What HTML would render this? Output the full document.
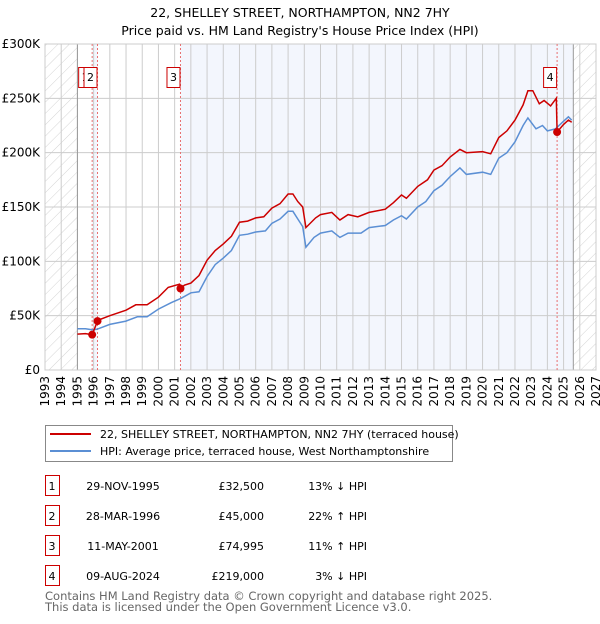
<!DOCTYPE html>
<html><head><meta charset="utf-8">
<style>
body{margin:0;background:#fff;font-family:"DejaVu Sans","Liberation Sans",sans-serif;}
svg text{font-family:"DejaVu Sans","Liberation Sans",sans-serif;}
</style></head>
<body>
<svg id="c" width="600" height="620" xmlns="http://www.w3.org/2000/svg">
<defs>
<pattern id="hatch" width="8" height="8" patternUnits="userSpaceOnUse" patternTransform="rotate(45)">
<line x1="0" y1="0" x2="0" y2="8" stroke="#d4d4d4" stroke-width="1"/>
</pattern>
</defs>
<text x="300" y="17" text-anchor="middle" font-size="12.5">22, SHELLEY STREET, NORTHAMPTON, NN2 7HY</text>
<text x="300" y="35" text-anchor="middle" font-size="12.5">Price paid vs. HM Land Registry's House Price Index (HPI)</text>
<g id="plot"></g>
<g id="legend">
<rect x="45.5" y="425.5" width="407" height="36" fill="#fff" stroke="#888"/>
<line x1="50" y1="434" x2="91" y2="434" stroke="#cc0000" stroke-width="2"/>
<text x="100" y="438" font-size="11">22, SHELLEY STREET, NORTHAMPTON, NN2 7HY (terraced house)</text>
<line x1="50" y1="451" x2="91" y2="451" stroke="#5b8fd4" stroke-width="2"/>
<text x="100" y="455" font-size="11">HPI: Average price, terraced house, West Northamptonshire</text>
</g>
<g id="table" font-size="11"></g>
<text x="45" y="600" font-size="11.5" fill="#666">Contains HM Land Registry data © Crown copyright and database right 2025.</text>
<text x="45" y="611" font-size="11.5" fill="#666">This data is licensed under the Open Government Licence v3.0.</text>
</svg>
<script>
const yTicks=[0,50000,100000,150000,200000,250000,300000];
const yTickLabels=["£0","£50K","£100K","£150K","£200K","£250K","£300K"];
const xYears=[1993,1994,1995,1996,1997,1998,1999,2000,2001,2002,2003,2004,2005,2006,2007,2008,2009,2010,2011,2012,2013,2014,2015,2016,2017,2018,2019,2020,2021,2022,2023,2024,2025,2026,2027];
const hpiT=[1995.0,1995.5,1995.9,1996.2,1997,1998,1998.7,1999.3,2000,2000.8,2001.4,2002,2002.5,2003,2003.5,2004,2004.5,2005,2005.5,2006,2006.6,2007,2007.5,2008,2008.3,2008.6,2008.9,2009.1,2009.6,2010,2010.7,2011.2,2011.7,2012.5,2013,2014,2014.5,2015,2015.3,2016,2016.5,2017,2017.5,2018,2018.6,2019,2020,2020.5,2021,2021.5,2022,2022.5,2022.8,2023.3,2023.7,2024,2024.5,2025,2025.3,2025.5];
const hpiV=[38000,38000,37000,37500,42000,45000,49000,49000,56000,62000,66000,71000,72000,86000,97000,103000,110000,124000,125000,127000,128000,135000,139000,146000,146000,139000,132000,113000,122000,126000,128000,122000,126000,126000,131000,133000,138000,142000,139000,150000,155000,165000,170000,178000,186000,180000,182000,180000,195000,200000,210000,225000,232000,222000,225000,220000,222000,229000,233000,230000];
const priceT=[1995.0,1995.5,1995.91,1996.24,1996.3,1997,1998,1998.6,1999.3,2000,2000.6,2001.3,2001.36,2001.6,2002,2002.5,2003,2003.5,2004,2004.5,2005,2005.5,2006,2006.5,2007,2007.5,2008,2008.3,2008.6,2008.9,2009.1,2009.7,2010,2010.7,2011.2,2011.7,2012.3,2013,2014,2014.5,2015,2015.3,2016,2016.6,2017,2017.5,2018,2018.6,2019,2020,2020.5,2021,2021.5,2022,2022.5,2022.8,2023.1,2023.5,2023.8,2024.2,2024.55,2024.6,2025,2025.3,2025.5];
const priceV=[33000,33500,32500,45000,46000,50000,55000,60000,60000,67000,76000,79000,75000,78000,80000,87000,101000,110000,116000,123000,136000,137000,140000,141000,149000,153000,162000,162000,155000,150000,131000,140000,143000,145000,138000,143000,141000,145000,148000,154000,161000,158000,169000,175000,184000,188000,196000,203000,200000,201000,199000,214000,220000,230000,244000,257000,257000,245000,248000,243000,250000,219000,226000,230000,228000];
const saleT=[1995.91,1996.24,2001.36,2024.6];
const saleV=[32500,45000,74995,219000];
const saleLabels=["1","2","3","4"];
const saleDates=["29-NOV-1995","28-MAR-1996","11-MAY-2001","09-AUG-2024"];
const salePrices=["£32,500","£45,000","£74,995","£219,000"];
const saleHpi=["13% ↓ HPI","22% ↑ HPI","11% ↑ HPI","3% ↓ HPI"];

const L=45,R=596,T=44,B=370;
const X=t=>L+(t-1993)*(R-L)/34;
const Y=v=>B-v*(B-T)/300000;
const NS="http://www.w3.org/2000/svg";
const plot=document.getElementById('plot');
function mk(tag,attrs,parent){const e=document.createElementNS(NS,tag);for(const k in attrs)e.setAttribute(k,attrs[k]);(parent||plot).appendChild(e);return e;}

let e=mk('rect',{x:L,y:T,width:R-L,height:B-T,fill:'#fff'});


e=mk('rect',{x:X(2001.36),y:T,width:X(2025.6)-X(2001.36),height:B-T,fill:'#f3f6fd'});


e=mk('rect',{x:X(1995.91),y:T,width:X(1996.24)-X(1995.91),height:B-T,fill:'#f3f6fd'});


e=mk('rect',{x:L,y:T,width:X(1995)-L,height:B-T,fill:'url(#hatch)'});


e=mk('rect',{x:X(2025.6),y:T,width:R-X(2025.6),height:B-T,fill:'url(#hatch)'});



yTicks.forEach((v,i)=>{
  const g=mk('line',{x1:L,x2:R,y1:Y(v),y2:Y(v),stroke:'#ccc','stroke-width':1});
  
  
  const t=mk('text',{x:40,y:Y(v)+4,'text-anchor':'end','font-size':12});
  t.textContent=yTickLabels[i];
  
  
});
xYears.forEach(yr=>{
  const g=mk('line',{x1:X(yr),x2:X(yr),y1:T,y2:B,stroke:'#ccc','stroke-width':1});
  
  
  const t=mk('text',{x:0,y:0,'text-anchor':'end','font-size':12,transform:`translate(${X(yr)+4},376) rotate(-90)`});
  t.textContent=yr;
  
  
});
e=mk('line',{x1:X(1995),x2:X(1995),y1:T,y2:B,stroke:'#999'});


e=mk('line',{x1:X(2025.6),x2:X(2025.6),y1:T,y2:B,stroke:'#999'});


e=mk('rect',{x:L,y:T,width:R-L,height:B-T,fill:'none',stroke:'#ccc'});



saleT.forEach((t,i)=>{
  const l=mk('line',{x1:X(t),x2:X(t),y1:T,y2:B,stroke:'#e87070','stroke-width':1,'stroke-dasharray':'2,2'});
  
  
});

const pts=(ts,vs)=>ts.map((t,i)=>X(t).toFixed(1)+','+Y(vs[i]).toFixed(1)).join(' ');
e=mk('polyline',{points:pts(hpiT,hpiV),fill:'none',stroke:'#5b8fd4','stroke-width':1.5});


e=mk('polyline',{points:pts(priceT,priceV),fill:'none',stroke:'#cc0000','stroke-width':1.5});



saleT.forEach((t,i)=>{
  const c=mk('circle',{cx:X(t),cy:Y(saleV[i]),r:4,fill:'#cc0000'});
  
  
  const bx=X(t)-14;
  const r=mk('rect',{x:bx+0.5,y:67.5,width:13,height:20,fill:'#fff',stroke:'#cc0000'});
  
  
  const tx=mk('text',{x:bx+7,y:81,'text-anchor':'middle','font-size':11});
  tx.textContent=saleLabels[i];
  
  
});

const tbl=document.getElementById('table');
saleLabels.forEach((s,i)=>{
  const y0=475+i*30;
  const r=mk('rect',{x:45.5,y:y0+0.5,width:14,height:20,fill:'#fff',stroke:'#cc0000'},tbl);
  
  
  const cells=[[52,'middle',s,'row-number'],[123,'middle',saleDates[i],'row-date'],[264,'end',salePrices[i],'row-price'],[367,'end',saleHpi[i],'row-hpi-diff']];
  cells.forEach(c=>{
    const t=mk('text',{x:c[0],y:y0+15,'text-anchor':c[1]},tbl);
    t.textContent=c[2];
    
    
  });
});
</script>
</body></html>
